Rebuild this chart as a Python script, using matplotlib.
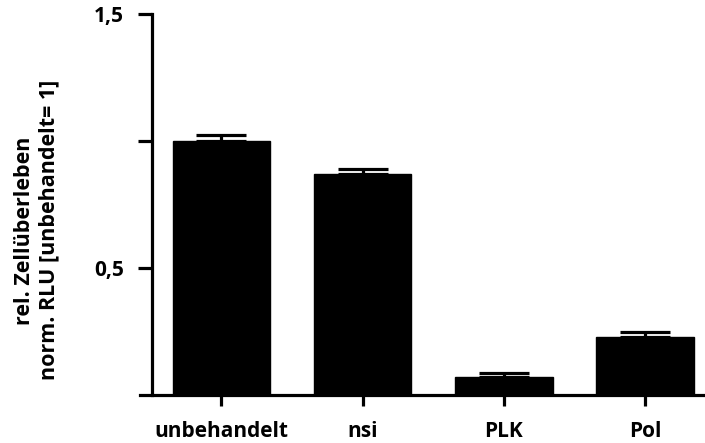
import matplotlib
matplotlib.use("Agg")
import matplotlib.pyplot as plt
import numpy as np

# values
categories = ["unbehandelt", "nsi", "PLK", "Pol"]
means = [1.00, 0.87, 0.07, 0.23]
errors = [0.025, 0.02, 0.018, 0.02]
y_ticks = [0.5, 1.0, 1.5]
y_ticklabels = ["0,5", "", "1,5"]

plt.rcParams.update({
    "font.family": ["Open Sans", "DejaVu Sans"],
    "font.weight": "bold",
    "font.size": 15,
})

fig = plt.figure(figsize=(7.05, 4.43), dpi=100)
ax = fig.add_axes([140 / 705, 1 - 395 / 443, 1 - 140 / 705, (395 - 14.3) / 443])

x = np.arange(len(categories))
lw = 2.3
ax.bar(x, means, width=0.69, color="black", edgecolor="black", zorder=2)
ax.errorbar(x, means, yerr=[np.zeros(len(errors)), errors], fmt="none",
            ecolor="black", elinewidth=lw, capsize=18, capthick=lw, zorder=3)

ax.set_xlim(-0.577, 3.424)
ax.set_ylim(0, 1.5)
ax.set_xticks(x)
ax.set_xticklabels(categories, fontweight="bold")
ax.set_yticks(y_ticks)
ax.set_yticklabels(y_ticklabels, fontweight="bold", fontsize=14)

for s in ("top", "right"):
    ax.spines[s].set_visible(False)
ax.spines["left"].set_position(("data", -0.492))
ax.spines["left"].set_linewidth(lw)
ax.spines["bottom"].set_linewidth(lw)
ax.tick_params(axis="y", length=10, width=lw, pad=10)
ax.tick_params(axis="x", length=8, width=lw, pad=11)

fig.text(0.052, 0.48, "rel. Zellüberleben\nnorm. RLU [unbehandelt= 1]",
         rotation=90, ha="center", va="center", fontsize=15.5,
         fontweight="bold", linespacing=1.25)

fig.savefig("out.png", dpi=100)
